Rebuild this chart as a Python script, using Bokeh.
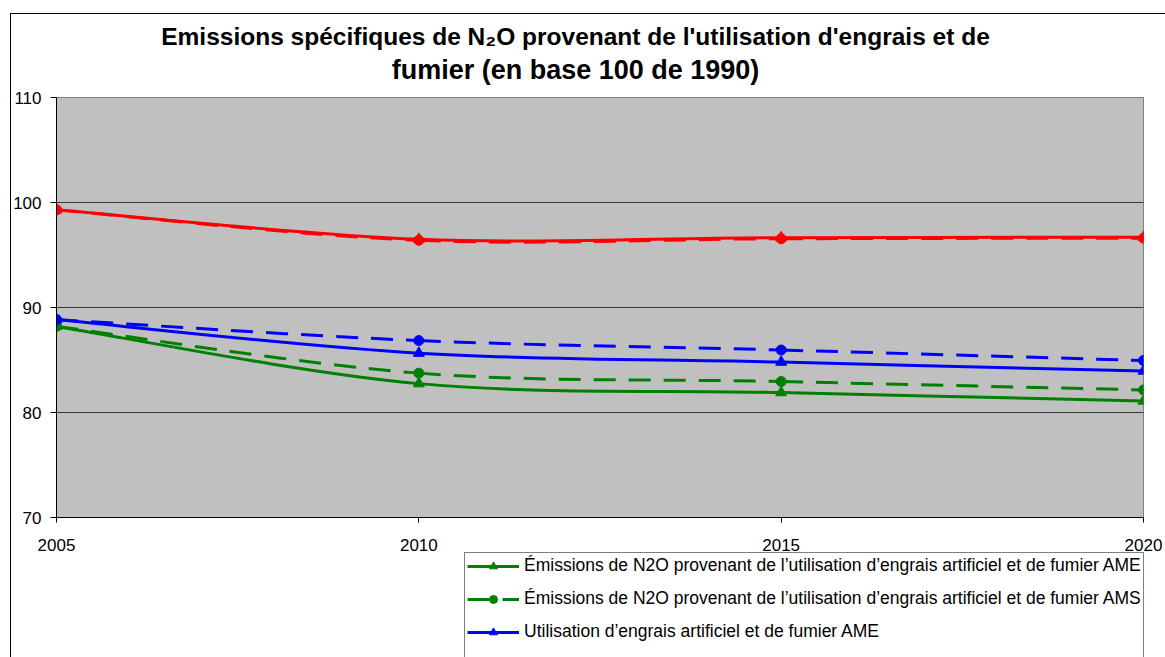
from bokeh.plotting import figure
from bokeh.models import Range1d, FixedTicker, Label, Legend, LegendItem, GridBox
from bokeh.embed import file_html
from bokeh.resources import INLINE

# ---- data ----
years = [2005, 2010, 2015, 2020]
n2o_ame = [88.2, 82.75, 81.9, 81.1]
n2o_ams = [88.2, 83.75, 82.95, 82.15]
util_ame = [88.85, 85.65, 84.8, 83.95]
util_ams = [88.85, 86.85, 85.95, 84.95]
spec_ame = [99.3, 96.5, 96.65, 96.7]
spec_ams = [99.3, 96.4, 96.55, 96.6]

labels = [
    "Émissions de N2O provenant de l’utilisation d’engrais artificiel et de fumier AME",
    "Émissions de N2O provenant de l’utilisation d’engrais artificiel et de fumier AMS",
    "Utilisation d’engrais artificiel et de fumier AME",
    "Utilisation d’engrais artificiel et de fumier AMS",
    "Émissions spécifiques de N2O AME",
    "Émissions spécifiques de N2O AMS",
]
series = [n2o_ame, n2o_ams, util_ame, util_ams, spec_ame, spec_ams]
colors = ["#008000", "#008000", "#0000FF", "#0000FF", "#FF0000", "#FF0000"]
dashes = ["solid", "22 13", "solid", "22 13", "solid", "22 13"]
markers = ["triangle", "circle", "triangle", "circle", "triangle", "circle"]

title_line1 = "Emissions spécifiques de N₂O provenant de l'utilisation d'engrais et de"
title_line2 = "fumier (en base 100 de 1990)"

y_ticks = [70, 80, 90, 100, 110]

FONT = "Liberation Sans"
W, H = 1165, 657

# ---------------- main chart ----------------
p = figure(width=W, height=H, output_backend="svg", toolbar_location=None, title_location=None,
           x_range=Range1d(years[0], years[-1]), y_range=Range1d(70, 110),
           min_border_left=56, min_border_right=22, min_border_top=97, min_border_bottom=140)
p.frame_align = False

p.styles = {"background": "linear-gradient(#000,#000) 10px 13px / 1px 100% no-repeat, "
                          "linear-gradient(#000,#000) 10px 13px / 100% 1px no-repeat"}
p.border_fill_alpha = 0
p.background_fill_color = "#C0C0C0"
p.outline_line_color = "#808080"
p.outline_line_width = 1

p.xgrid.visible = False
p.ygrid.ticker = FixedTicker(ticks=y_ticks)
p.ygrid.grid_line_color = "#3a3a3a"
p.ygrid.grid_line_width = 1

p.xaxis.ticker = FixedTicker(ticks=years)
p.yaxis.ticker = FixedTicker(ticks=y_ticks)
for ax in (p.xaxis, p.yaxis):
    ax.axis_line_color = "#000000"
    ax.major_tick_line_color = "#000000"
    ax.minor_tick_line_color = None
    ax.major_tick_in = 0
    ax.major_label_text_font = FONT
    ax.major_label_text_font_size = "17px"
    ax.major_label_text_color = "#000000"
p.xaxis.major_tick_out = 5
p.xaxis.major_label_standoff = 16
p.yaxis.major_tick_out = 6
p.yaxis.major_label_standoff = 9


def smooth(xs, ys):
    n = len(xs)
    d = dict(x0=[], y0=[], x1=[], y1=[], cx0=[], cy0=[], cx1=[], cy1=[])
    for i in range(n - 1):
        a = i - 1 if i > 0 else i
        b = i + 2 if i + 2 < n else i + 1
        d["x0"].append(xs[i]); d["y0"].append(ys[i])
        d["x1"].append(xs[i + 1]); d["y1"].append(ys[i + 1])
        d["cx0"].append(xs[i] + (xs[i + 1] - xs[a]) / 6)
        d["cy0"].append(ys[i] + (ys[i + 1] - ys[a]) / 6)
        d["cx1"].append(xs[i + 1] - (xs[b] - xs[i]) / 6)
        d["cy1"].append(ys[i + 1] - (ys[b] - ys[i]) / 6)
    return d


for vals, col, dash, mk in zip(series, colors, dashes, markers):
    seg = smooth(years, vals)
    p.bezier(source=seg, x0="x0", y0="y0", x1="x1", y1="y1", cx0="cx0", cy0="cy0",
             cx1="cx1", cy1="cy1", line_color=col, line_width=3, line_dash=dash)
    p.scatter(x=years, y=vals, marker=mk, size=11 if mk == "triangle" else 10,
              fill_color=col, line_color=col)

# ---------------- overlay: titles + legend (not clipped by the plot frame) ----------------
ov = figure(width=W, height=H, output_backend="svg", toolbar_location=None, title_location=None,
            x_axis_location=None, y_axis_location=None,
            x_range=Range1d(0, 1), y_range=Range1d(0, 1),
            min_border_left=0, min_border_right=0, min_border_top=0, min_border_bottom=0)
ov.frame_align = False
ov.border_fill_alpha = 0
ov.background_fill_alpha = 0
ov.outline_line_color = None
ov.grid.visible = False

items = []
for lab, vals, col, dash, mk in zip(labels, series, colors, dashes, markers):
    # legend proxies: same series, outside this overlay's visible range
    ln = ov.line(x=years, y=vals, line_color=col, line_width=3, line_dash=dash)
    sc = ov.scatter(x=years, y=vals, marker=mk, size=11 if mk == "triangle" else 10,
                    fill_color=col, line_color=col)
    items.append(LegendItem(label=lab, renderers=[ln, sc]))

legend = Legend(items=items, location=(464, -87), orientation="vertical",
                padding=2, spacing=12, glyph_width=52, glyph_height=20, label_height=20,
                label_standoff=5, label_text_font=FONT, label_text_font_size="17.5px",
                label_text_color="#000000", border_line_color="#000000", border_line_width=1,
                background_fill_color="#FFFFFF", background_fill_alpha=1, margin=0)
ov.add_layout(legend, "center")

for txt, yy, fs in ((title_line1, H - 36, "24.5px"), (title_line2, H - 69, "27px")):
    ov.add_layout(Label(x=575, y=yy, x_units="screen", y_units="screen", text=txt,
                        text_align="center", text_baseline="middle", text_font=FONT,
                        text_font_size=fs, text_font_style="bold", text_color="#000000"))

layout = GridBox(children=[(p, 0, 0), (ov, 0, 0)])

open("out.html", "w").write(file_html(layout, INLINE))
